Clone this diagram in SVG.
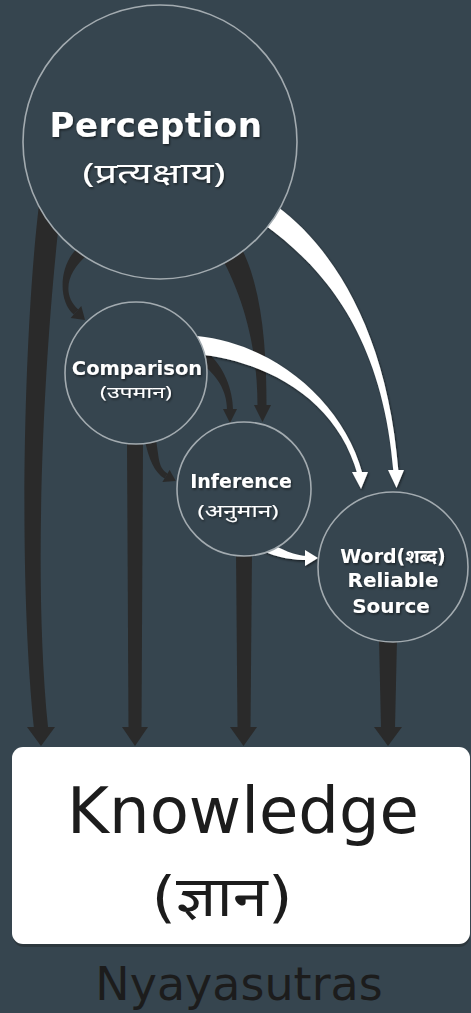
<svg xmlns="http://www.w3.org/2000/svg" width="471" height="1013" viewBox="0 0 471 1013">
  <defs>
    <filter id="sh" x="-10%" y="-10%" width="130%" height="140%">
      <feDropShadow dx="1" dy="1.5" stdDeviation="1" flood-color="#000" flood-opacity="0.55"/>
    </filter>
    <style>
      .bg { fill: #36454f; }
      .node { fill: #36454f; stroke: #a3abb0; stroke-width: 1.6; }
      .dark { fill: #2a2a2a; }
      .light { fill: #ffffff; }
      .lbl { fill: #ffffff; font-family: "DejaVu Sans", "Noto Sans", "Liberation Sans", sans-serif; font-weight: bold; text-anchor: middle; }
      .dev { fill: #ffffff; font-family: "Noto Sans", "DejaVu Sans", "Liberation Sans", sans-serif; text-anchor: middle; }
      .big { fill: #1c1c1c; font-family: "DejaVu Sans", "Noto Sans", sans-serif; text-anchor: middle; }
    </style>
  </defs>
  <rect class="bg" x="0" y="0" width="471" height="1013"/>

  <g id="connectors">
    <!-- dark: to Knowledge -->
    <path class="dark" d="M 39.1 203.7 C 25.1 318.7, 17 560.7, 34 728.7 L 48 727.3 C 31 559.3, 46.9 321.3, 60.9 206.3 Z"/>
    <polygon class="dark" points="27,727 55,727 41,746"/>
    <path class="dark" d="M 127 440 L 143 440 L 141.5 728 L 128.5 728 Z"/>
    <polygon class="dark" points="122,727 148,727 135,746"/>
    <path class="dark" d="M 236 550 L 252 550 L 250.5 728 L 237.5 728 Z"/>
    <polygon class="dark" points="230,727 257,727 243.5,746"/>
    <path class="dark" d="M 379 638 L 397 638 L 395 728 L 381 728 Z"/>
    <polygon class="dark" points="374,727 402,727 388,746"/>
    <!-- dark: Perception -> Comparison -->
    <path class="dark" d="M 87.8 254.6 C 65.8 272.6, 62.3 295.4, 78.3 309.4 L 73.7 314.6 C 57.7 300.6, 58.2 263.4, 80.2 245.4 Z"/>
    <polygon class="dark" points="81.3,306 70.7,318 85,320"/>
    <!-- dark: Perception -> Inference -->
    <path class="dark" d="M 239.6 244.7 C 261.6 284.7, 266.5 345, 266.5 406 L 257.5 406 C 257.5 345, 242.4 295.3, 220.4 255.3 Z"/>
    <polygon class="dark" points="254,405 271,405 262.5,422"/>
    <!-- dark: Comparison -> Inference (top) -->
    <path class="dark" d="M 207.6 353.2 C 223.6 365.2, 233 390, 233 410 L 227 410 C 227 390, 216.4 374.8, 200.4 362.8 Z"/>
    <polygon class="dark" points="223,409 237,409 230,423"/>
    <!-- dark: Comparison -> Inference (left) -->
    <path class="dark" d="M 155.4 436.9 C 159.4 456.9, 157.5 467.4, 167.5 473.4 L 164.5 478.6 C 154.5 472.6, 148.6 459.1, 144.6 439.1 Z"/>
    <polygon class="dark" points="169.6,470 162.4,482 175.8,480.9"/>
    <!-- white connectors -->
    <g filter="url(#sh)">
      <path class="light" d="M 276.5 206.1 C 331.5 246.1, 387.5 329.8, 398.5 471.8 L 393.5 472.2 C 382.5 330.2, 318.5 263.9, 263.5 223.9 Z"/>
      <polygon class="light" points="388,470 404,470 396.5,488"/>
      <path class="light" d="M 196.9 336 C 270.9 343, 342.4 399.3, 362.4 473.3 L 357.6 474.7 C 337.6 400.7, 269.2 361, 195.2 354 Z"/>
      <polygon class="light" points="352,472 368,472 361,489"/>
      <path class="light" d="M 264.2 540.5 C 282.2 549.5, 295 556, 308 556 L 308 560 C 295 560, 277.8 558.5, 259.8 549.5 Z"/>
      <polygon class="light" points="305,550 305,566 318,558"/>
    </g>
  </g>

  <g id="perception">
    <circle class="node" cx="160" cy="142" r="137"/>
    <text class="lbl" x="156" y="137" font-size="34" letter-spacing="0.5" filter="url(#sh)">Perception</text>
    <text class="dev" x="154" y="183" font-size="28" textLength="143" lengthAdjust="spacingAndGlyphs" filter="url(#sh)">(प्रत्यक्षाय)</text>
  </g>

  <g id="comparison">
    <circle class="node" cx="136" cy="373" r="71"/>
    <text class="lbl" x="137" y="375" font-size="19.5" filter="url(#sh)">Comparison</text>
    <text class="dev" x="136" y="398" font-size="16" textLength="72" lengthAdjust="spacingAndGlyphs" filter="url(#sh)">(उपमान)</text>
  </g>

  <g id="inference">
    <circle class="node" cx="244" cy="489" r="67"/>
    <text class="lbl" x="241" y="488" font-size="19" filter="url(#sh)">Inference</text>
    <text class="dev" x="238" y="517" font-size="17" textLength="81" lengthAdjust="spacingAndGlyphs" filter="url(#sh)">(अनुमान)</text>
  </g>

  <g id="word">
    <circle class="node" cx="393" cy="567" r="75"/>
    <text class="lbl" x="393" y="563" font-size="19" filter="url(#sh)">Word(शब्द)</text>
    <text class="lbl" x="393" y="587" font-size="20" filter="url(#sh)">Reliable</text>
    <text class="lbl" x="391" y="613" font-size="20" filter="url(#sh)">Source</text>
  </g>

  <g id="knowledge">
    <rect x="13" y="750" width="457" height="197" rx="11" fill="#2b3338" opacity="0.8"/>
    <rect x="12" y="747" width="458" height="197" rx="11" fill="#ffffff"/>
    <text class="big" x="243" y="833" font-size="64">Knowledge</text>
    <text class="big" x="222" y="916" font-size="56" textLength="141" lengthAdjust="spacingAndGlyphs">(ज्ञान)</text>
  </g>

  <g id="caption">
    <text class="big" x="239" y="1000" font-size="46" fill="#1e1e1e">Nyayasutras</text>
  </g>
</svg>
